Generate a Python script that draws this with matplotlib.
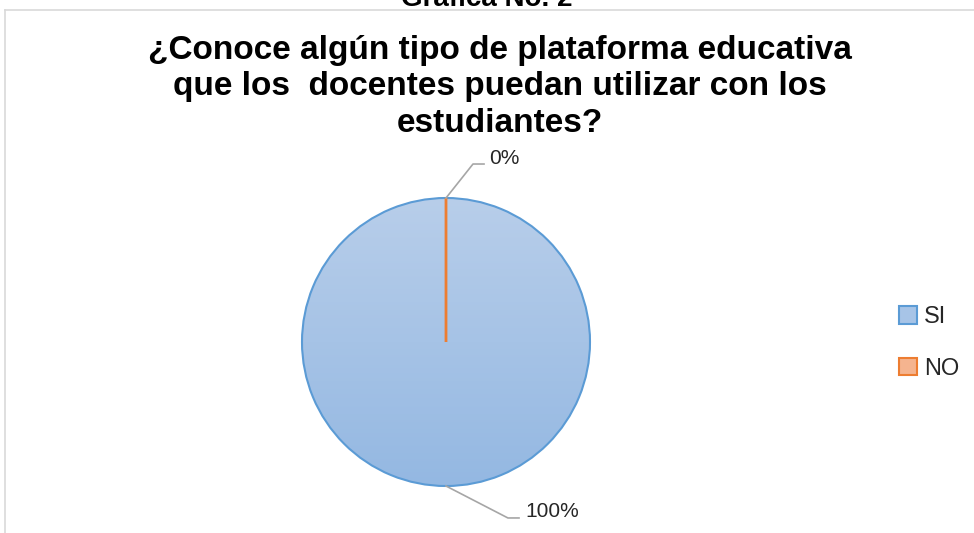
import numpy as np
import matplotlib.pyplot as plt
from matplotlib.patches import Patch
from matplotlib.lines import Line2D
from matplotlib.colors import LinearSegmentedColormap

categories = ['SI', 'NO']
values = [100, 0]
pct_labels = ['100%', '0%']

title = '¿Conoce algún tipo de plataforma educativa\nque los  docentes puedan utilizar con los\nestudiantes?'
top_title = 'Gráfica No. 2'

W, H = 974, 533
fig = plt.figure(figsize=(W/100, H/100), dpi=100)
plt.rcParams['font.family'] = ['Liberation Sans', 'DejaVu Sans']

# chart frame (cut off on right and bottom)
fig.add_artist(Line2D([5/W, 1], [1-10/H, 1-10/H], color='#d9d9d9', lw=1.2))
fig.add_artist(Line2D([5/W, 5/W], [0, 1-10/H], color='#d9d9d9', lw=1.2))

fig.text(487/W, 1-6/H, top_title, ha='center', va='baseline', fontsize=20,
         fontweight='bold', color='black')
fig.text(500/W, 1-87/H, title, ha='center', va='center', fontsize=24,
         fontweight='bold', color='black', linespacing=1.24)

cx, cy, r = 446, 342, 144
ax = fig.add_axes([(cx-r)/W, (H-cy-r)/H, 2*r/W, 2*r/H])
wedges, _ = ax.pie(values, startangle=90, counterclock=False, radius=1,
                   colors=['#a7c4e7', '#f4b183'],
                   wedgeprops=dict(linewidth=1.5))
wedges[0].set_edgecolor('#5b9bd5')
wedges[0].set_facecolor('none')
wedges[1].set_edgecolor('#ed7d31')
wedges[1].set_linewidth(2)

# gradient fill for SI slice
cmap = LinearSegmentedColormap.from_list('g', ['#94b8e2', '#b8ceea'])
grad = np.linspace(0, 1, 256).reshape(-1, 1)
im = ax.imshow(grad, extent=(-1, 1, -1, 1), origin='lower', cmap=cmap,
               aspect='auto', zorder=0.5)
im.set_clip_path(wedges[0])
wedges[0].set_zorder(1)
wedges[1].set_zorder(2)
ax.set_xlim(-1, 1)
ax.set_ylim(-1, 1)
ax.axis('off')

# data labels with leader lines
lead = {'0%': ((0.1875, 1.236), (0.264, 1.236), (0.299, 1.271)),
        '100%': ((0.43, -1.222), (0.507, -1.222), (0.549, -1.174))}
for w, lab in zip(wedges, pct_labels):
    ang = np.deg2rad((w.theta1 + w.theta2) / 2)
    if lab == '0%':
        ang = np.deg2rad(w.theta1)
    sx, sy = np.cos(ang), np.sin(ang)
    c, e, t = lead[lab]
    ax.plot([sx, c[0], e[0]], [sy, c[1], e[1]], color='#a6a6a6', lw=1.2,
            clip_on=False, zorder=3)
    ax.text(t[0], t[1], lab, ha='left', va='center', fontsize=15,
            color='#262626', clip_on=False)

handles = [Patch(facecolor='#a7c4e7', edgecolor='#5b9bd5', lw=1.5),
           Patch(facecolor='#f5b48f', edgecolor='#ed7d31', lw=1.5)]
fig.legend(handles, categories, loc='center left',
           bbox_to_anchor=(878/W, 1-343/H), frameon=False, fontsize=17,
           handlelength=0.76, handleheight=0.76, handletextpad=0.3,
           labelspacing=1.25, labelcolor='#262626')

fig.savefig('out.png', dpi=100)
